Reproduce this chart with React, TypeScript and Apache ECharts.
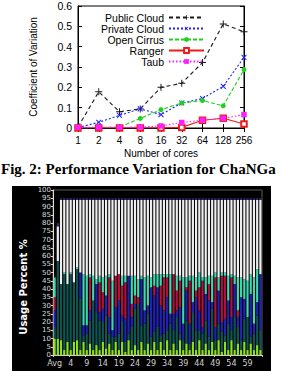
import React, { useEffect, useRef } from "react";
import * as echarts from "echarts";

// ---------- Top chart data ----------
const coreCounts = ["1", "2", "4", "8", "16", "32", "64", "128", "256"];
const publicCloud = [0.005, 0.178, 0.08, 0.094, 0.2, 0.22, 0.322, 0.512, 0.473];
const privateCloud = [0.002, 0.028, 0.062, 0.094, 0.066, 0.123, 0.145, 0.205, 0.347];
const openCirrus = [0.001, 0.003, 0.004, 0.047, 0.09, 0.123, 0.135, 0.109, 0.287];
const ranger = [0, 0, 0, 0, 0, 0.003, 0.038, 0.048, 0.02];
const taub = [0.003, 0.003, 0.003, 0.005, 0.01, 0.027, 0.038, 0.047, 0.066];

// ---------- Bottom chart data ----------
const procLabels = [
  "Avg", "0", "1", "2", "3", "4", "5", "6", "7", "8", "9", "10", "11", "12", "13", "14",
  "15", "16", "17", "18", "19", "20", "21", "22", "23", "24", "25", "26", "27", "28", "29",
  "30", "31", "32", "33", "34", "35", "36", "37", "38", "39", "40", "41", "42", "43", "44",
  "45", "46", "47", "48", "49", "50", "51", "52", "53", "54", "55", "56", "57", "58", "59",
  "60", "61", "62", "63",
];
const layerGreen = [10, 10, 9, 3, 8, 3, 8, 9, 3, 8, 3, 7, 3, 6, 3, 8, 4, 7, 3, 8, 3, 8, 2, 9, 3, 6, 3, 8, 3, 7, 3, 8, 3, 8, 3, 9, 3, 7, 3, 9, 3, 7, 3, 8, 3, 9, 3, 7, 3, 8, 3, 9, 2, 8, 3, 9, 3, 7, 3, 8, 3, 7, 3, 6, 3];
const layerTeal = [7, 47, 34, 46, 35, 46, 36, 43, 31, 4, 10, 14, 30, 20, 18, 12, 20, 6, 8, 3, 10, 12, 6, 4, 14, 22, 28, 10, 16, 18, 8, 6, 14, 4, 10, 6, 16, 8, 20, 4, 6, 14, 4, 18, 12, 6, 10, 14, 8, 20, 6, 10, 12, 4, 16, 6, 20, 10, 6, 14, 20, 4, 10, 18, 12];
const layerBlue = [10, 0, 0, 0, 0, 0, 0, 0, 16, 6, 5, 6, 0, 17, 5, 8, 12, 10, 4, 18, 20, 4, 14, 35, 6, 3, 0, 28, 8, 5, 30, 22, 24, 18, 14, 20, 6, 10, 4, 16, 10, 18, 12, 6, 20, 12, 4, 16, 22, 4, 8, 20, 6, 10, 14, 8, 20, 6, 26, 12, 0, 26, 6, 8, 34];
const layerRed = [8, 0, 0, 0, 0, 0, 0, 0, 0, 0, 0, 20, 0, 0, 18, 10, 0, 24, 0, 19, 16, 18, 22, 0, 8, 5, 4, 0, 0, 0, 0, 6, 0, 12, 20, 12, 0, 24, 12, 16, 0, 2, 26, 0, 4, 14, 28, 0, 10, 0, 30, 0, 28, 26, 0, 24, 0, 4, 0, 0, 0, 0, 0, 0, 0];
const layerTurq = [12, 0, 0, 1, 0, 1, 0, 1, 0, 31, 30, 2, 15, 3, 4, 9, 12, 2, 30, 0, 0, 6, 4, 0, 17, 12, 11, 2, 20, 18, 6, 7, 8, 7, 2, 2, 24, 0, 9, 3, 28, 6, 3, 16, 8, 9, 2, 10, 5, 16, 3, 8, 2, 2, 15, 2, 5, 20, 12, 12, 22, 12, 28, 20, 0];
const layerIdle = [0, 21, 51, 44, 51, 44, 50, 41, 44, 45, 46, 45, 46, 48, 46, 47, 46, 45, 49, 46, 45, 46, 46, 46, 46, 46, 48, 46, 47, 46, 47, 45, 45, 45, 45, 45, 45, 45, 46, 46, 47, 47, 46, 46, 47, 44, 47, 47, 46, 46, 44, 47, 44, 44, 46, 45, 46, 47, 47, 48, 49, 45, 47, 42, 45];
const layerCap = [0, 2, 1, 1, 1, 1, 1, 1, 1, 1, 1, 1, 1, 1, 1, 1, 1, 1, 1, 1, 1, 1, 1, 1, 1, 1, 1, 1, 1, 1, 1, 1, 1, 1, 1, 1, 1, 1, 1, 1, 1, 1, 1, 1, 1, 1, 1, 1, 1, 1, 1, 1, 1, 1, 1, 1, 1, 1, 1, 1, 1, 1, 1, 1, 1];

const PLUS = "path://M4.3,0H5.7V4.3H10V5.7H5.7V10H4.3V5.7H0V4.3H4.3Z";
const SANS = "Liberation Sans";

export default function App() {
  const ref = useRef<HTMLDivElement>(null);
  useEffect(() => {
    if (!ref.current) return;
    const chart = echarts.init(ref.current, undefined, { renderer: "svg" });

    const lineSeries = [
      { name: "Public Cloud", data: publicCloud, color: "#1a1a1a", type: [4, 3], symbol: PLUS, size: 7, rotate: 0 },
      { name: "Private Cloud", data: privateCloud, color: "#2020ff", type: [2, 2], symbol: PLUS, size: 7, rotate: 45 },
      { name: "Open Cirrus", data: openCirrus, color: "#20d020", type: [4, 2], symbol: "circle", size: 5, rotate: 0 },
      { name: "Ranger", data: ranger, color: "#ee1c1c", type: "solid", symbol: "emptyRect", size: 5.5, rotate: 0 },
      { name: "Taub", data: taub, color: "#ff20ff", type: [1.5, 2], symbol: "rect", size: 5.5, rotate: 0 },
    ];

    const legends = lineSeries.map((s, i) => ({
      data: [s.name],
      orient: "vertical",
      align: "right",
      right: 77,
      top: 12 + i * 11,
      padding: 0,
      itemWidth: 35,
      itemHeight: 6,
      itemGap: 0,
      selectedMode: false,
      textStyle: { fontSize: 10.5, fontFamily: SANS, color: "#000", padding: [0, 0, 0, 0] },
    }));

    const stackLayers = [
      { name: "g", data: layerGreen, color: "#8ee01c" },
      { name: "t", data: layerTeal, color: "#0e5652" },
      { name: "b", data: layerBlue, color: "#2222b4" },
      { name: "r", data: layerRed, color: "#b0123c" },
      { name: "q", data: layerTurq, color: "#3fd6b2" },
      { name: "w", data: layerIdle, color: "#eeeeee" },
      { name: "c", data: layerCap, color: "#3a2470" },
    ];

    const option: any = {
      animation: false,
      backgroundColor: "#fff",
      legend: legends,
      grid: [
        { left: 78, top: 6, width: 166, height: 122, show: true, borderColor: "#000", borderWidth: 1, backgroundColor: "transparent" },
        { left: 53, top: 190, width: 209, height: 165, show: true, borderColor: "#5a5a5a", borderWidth: 1, backgroundColor: "#000" },
      ],
      xAxis: [
        {
          gridIndex: 0,
          type: "category",
          data: coreCounts,
          boundaryGap: false,
          name: "Number of cores",
          nameLocation: "middle",
          nameGap: 20,
          nameTextStyle: { fontSize: 10, fontFamily: SANS, color: "#000" },
          axisLine: { lineStyle: { color: "#000", width: 1 } },
          axisTick: { inside: true, length: 4, interval: 0, lineStyle: { color: "#000" } },
          axisLabel: { interval: 0, fontSize: 10, fontFamily: SANS, color: "#000", margin: 7 },
          splitLine: { show: false },
        },
        {
          gridIndex: 0,
          type: "category",
          data: coreCounts,
          boundaryGap: false,
          position: "top",
          axisLine: { lineStyle: { color: "#000", width: 1 } },
          axisTick: { inside: true, length: 4, interval: 0, lineStyle: { color: "#000" } },
          axisLabel: { show: false },
          splitLine: { show: false },
        },
        {
          gridIndex: 1,
          type: "category",
          data: procLabels,
          axisLine: { lineStyle: { color: "#cccccc", width: 1 } },
          axisTick: { show: true, interval: 4, length: 2, lineStyle: { color: "#cccccc" } },
          axisLabel: { interval: 4, fontSize: 8, fontFamily: "DejaVu Sans", color: "#cfcfcf", margin: 4 },
          splitLine: { show: false },
        },
      ],
      yAxis: [
        {
          gridIndex: 0,
          type: "value",
          min: 0,
          max: 0.6,
          interval: 0.1,
          name: "Coefficient of Variation",
          nameLocation: "middle",
          nameGap: 40,
          nameTextStyle: { fontSize: 10, fontFamily: SANS, color: "#000" },
          axisLine: { show: true, lineStyle: { color: "#000", width: 1 } },
          axisTick: { show: true, inside: true, length: 4, lineStyle: { color: "#000" } },
          axisLabel: { fontSize: 10.5, fontFamily: SANS, color: "#000", margin: 6 },
          splitLine: { show: false },
        },
        {
          gridIndex: 0,
          type: "value",
          min: 0,
          max: 0.6,
          interval: 0.1,
          position: "right",
          axisLine: { show: true, lineStyle: { color: "#000", width: 1 } },
          axisTick: { show: true, inside: true, length: 4, lineStyle: { color: "#000" } },
          axisLabel: { show: false },
          splitLine: { show: false },
        },
        {
          gridIndex: 1,
          type: "value",
          min: 0,
          max: 100,
          interval: 5,
          axisLine: { show: true, lineStyle: { color: "#dddddd", width: 1 } },
          axisTick: { show: true, length: 2, lineStyle: { color: "#dddddd" } },
          axisLabel: { fontSize: 7, fontFamily: "DejaVu Sans", color: "#dddddd", margin: 2 },
          splitLine: { show: false },
        },
      ],
      series: [
        ...lineSeries.map((s) => ({
          type: "line",
          name: s.name,
          xAxisIndex: 0,
          yAxisIndex: 0,
          data: s.data,
          symbol: s.symbol,
          symbolSize: s.size,
          symbolRotate: s.rotate,
          showAllSymbol: true,
          color: s.color,
          itemStyle: { color: s.color, borderColor: s.color, borderWidth: s.symbol === "emptyRect" ? 1 : 0 },
          lineStyle: { color: s.color, width: 1.1, type: s.type },
          z: 3,
        })),
        ...stackLayers.map((l) => ({
          type: "bar",
          name: l.name,
          xAxisIndex: 2,
          yAxisIndex: 2,
          stack: "usage",
          data: l.data,
          barCategoryGap: "32%",
          itemStyle: { color: l.color },
          legendHoverLink: false,
        })),
      ],
      graphic: [
        {
          type: "rect",
          z: -10,
          shape: { x: 12, y: 186, width: 259, height: 185 },
          style: { fill: "#000" },
        },
        {
          type: "text",
          left: 1,
          top: 161,
          style: {
            text: "Fig. 2: Performance Variation for ChaNGa",
            font: 'bold 15px "Liberation Serif"',
            fill: "#000",
          },
        },
        {
          type: "text",
          x: 23,
          y: 287,
          rotation: Math.PI / 2,
          style: {
            text: "Usage Percent %",
            font: 'bold 10px "DejaVu Sans"',
            fill: "#ffffff",
            align: "center",
            verticalAlign: "middle",
            textAlign: "center",
            textVerticalAlign: "middle",
          },
        },
      ],
    };

    chart.setOption(option);
    return () => chart.dispose();
  }, []);

  return (
    <div
      ref={ref}
      style={{ position: "absolute", left: 0, top: 0, width: 282, height: 371 }}
    />
  );
}
